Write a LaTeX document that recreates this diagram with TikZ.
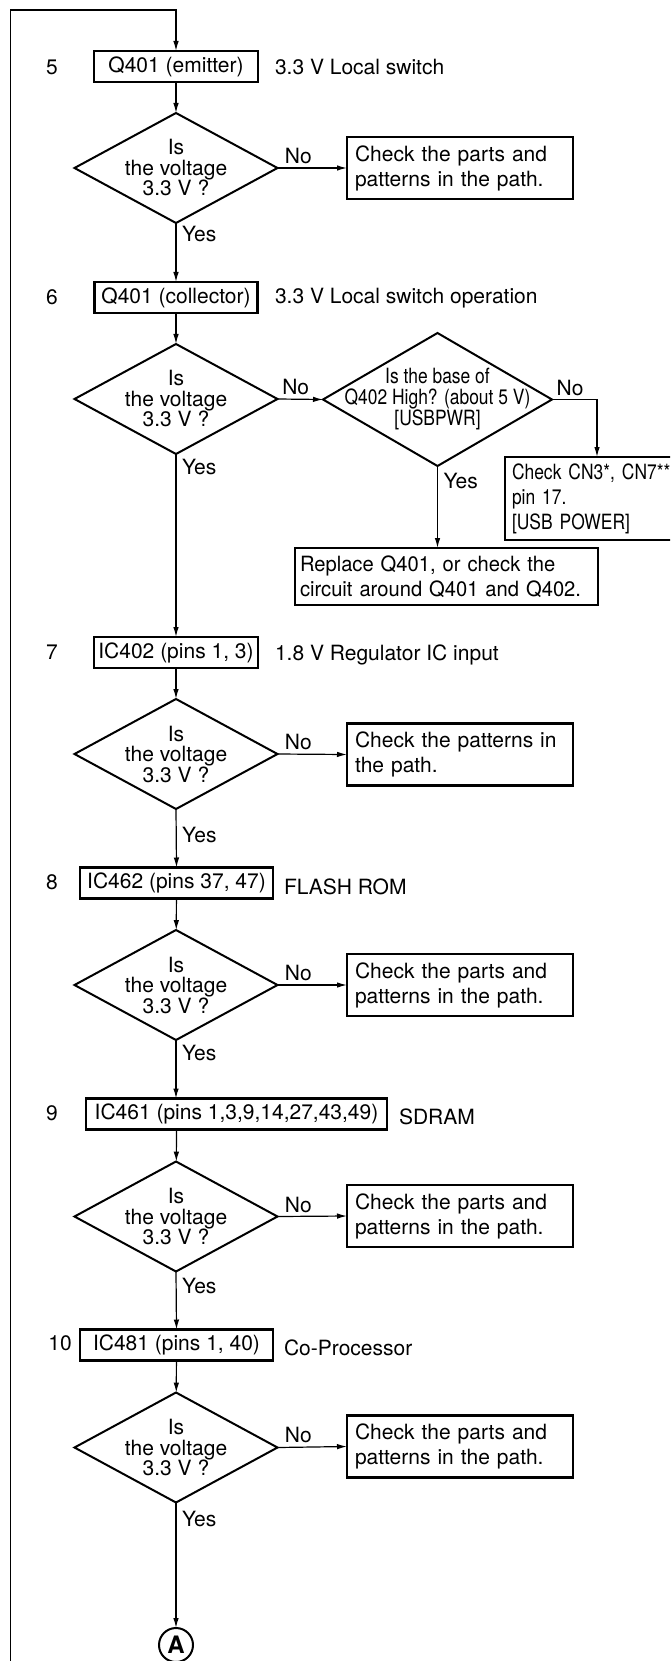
\documentclass[tikz,border=0pt]{standalone}
\usepackage{fontspec}
\setmainfont{TeX Gyre Heros}
\newfontfamily\narrowfont[FakeStretch=0.83]{TeX Gyre Heros}
\newfontfamily\slimfont[FakeStretch=0.96]{TeX Gyre Heros}
\usetikzlibrary{shapes.geometric,arrows.meta}
\begin{document}
\begin{tikzpicture}[x=1pt,y=-1pt,
  every node/.style={font=\fontsize{21}{25}\selectfont, inner sep=0pt, outer sep=0pt},
  stepbox/.style={draw, line width=2.4pt, minimum height=31pt},
  checkbox/.style={draw, line width=2.4pt, minimum width=226pt, minimum height=62pt,
     inner xsep=8pt, text width=210pt, align=left},
  dia/.style={draw, diamond, line width=2pt, minimum width=203pt, minimum height=110pt},
  dtext/.style={align=center, font=\fontsize{21}{20.5}\selectfont},
  conn/.style={line width=1.2pt},
  arr/.style={conn, -{Latex[length=10pt,width=5.5pt]}},
  txt/.style={anchor=west}
]
\useasboundingbox (0,0) rectangle (670,1661);
\clip (0,0) rectangle (670,1661);

% ---- step 5
\node[stepbox, minimum width=164pt] (b5) at (176,66.5) {Q401 (emitter)};
\node (n5) at (52,67) {5};
\node[txt] (t5) at (275,67) {3.3 V Local switch};
\node[dia, label={[dtext]center:{Is\\the voltage\\3.3 V ?}}] (d1) at (176,168) {};
\node[checkbox] (c1) at (460,168) {Check the parts and\\patterns in the path.};

% ---- step 6
\node[stepbox, minimum width=163pt] (b6) at (176,297.5) {Q401 (collector)};
\node (n6) at (52,297) {6};
\node[txt] (t6) at (275,298) {3.3 V Local switch operation};
\node[dia, label={[dtext]center:{Is\\the voltage\\3.3 V ?}}] (d2) at (176,399) {};
\node[dia, minimum width=229pt, minimum height=133pt,
      label={[dtext,font=\narrowfont\fontsize{21}{21}\selectfont]center:{Is the base of\\Q402 High? (about 5 V)\\{[USBPWR]}}}] (d3) at (437.5,399.5) {};
\node[draw, line width=2.4pt, anchor=north west, minimum width=185pt, minimum height=83pt,
      inner xsep=7pt, text width=171pt, align=left,
      font=\narrowfont\fontsize{21}{25}\selectfont] (cn3) at (505,457)
      {Check CN3*, CN7**\\pin 17.\\{[USB POWER]}};
\node[draw, line width=2.4pt, anchor=north west, minimum width=303pt, minimum height=57pt,
      inner xsep=5pt, text width=293pt, align=left,
      font=\slimfont\fontsize{21}{25}\selectfont] (rep) at (295,548)
      {Replace Q401, or check the\\circuit around Q401 and Q402.};

% ---- step 7
\node[stepbox, minimum width=164pt] (b7) at (176,652.5) {IC402 (pins 1, 3)};
\node (n7) at (52,652) {7};
\node[txt] (t7) at (275,655) {1.8 V Regulator IC input};
\node[dia, label={[dtext]center:{Is\\the voltage\\3.3 V ?}}] (d4) at (176,754) {};
\node[checkbox] (c2) at (460,754.5) {Check the patterns in\\the path.};

% ---- step 8
\node[stepbox, minimum width=193pt] (b8) at (176.5,883) {IC462 (pins 37, 47)};
\node (n8) at (52,882) {8};
\node[txt] (t8) at (284,887) {FLASH ROM};
\node[dia, label={[dtext]center:{Is\\the voltage\\3.3 V ?}}] (d5) at (176,985) {};
\node[checkbox] (c3) at (460,985) {Check the parts and\\patterns in the path.};

% ---- step 9
\node[stepbox, minimum width=301pt] (b9) at (236.5,1114) {IC461 (pins 1,3,9,14,27,43,49)};
\node (n9) at (52,1113) {9};
\node[txt] (t9) at (399,1117) {SDRAM};
\node[dia, label={[dtext]center:{Is\\the voltage\\3.3 V ?}}] (d6) at (176,1216.5) {};
\node[checkbox] (c4) at (460,1216) {Check the parts and\\patterns in the path.};

% ---- step 10
\node[stepbox, minimum width=193pt] (b10) at (176.5,1345) {IC481 (pins 1, 40)};
\node (n10) at (60,1343) {10};
\node[txt] (t10) at (284,1348) {Co-Processor};
\node[dia, label={[dtext]center:{Is\\the voltage\\3.3 V ?}}] (d7) at (176,1447.5) {};
\node[checkbox] (c5) at (460,1446.5) {Check the parts and\\patterns in the path.};

% ---- connector A
\node[draw, circle, line width=2pt, minimum size=34pt,
      font=\bfseries\fontsize{24}{24}\selectfont] (ca) at (176,1645) {A};

% ---- connectors
\coordinate (loop) at (10.7,1680);
\draw[arr] (loop) -- (10.7,10) -| (b5.north);
\draw[arr] (b5) -- (d1);
\draw[arr] (d1.east) -- (c1.west) node[pos=0.3, above=4pt] (no1) {No};
\draw[arr] (d1.south) -- (b6.north) node[pos=0.18, right=6pt] (y1) {Yes};
\draw[arr] (b6) -- (d2);
\draw[arr] (d2.east) -- (d3.west) node[pos=0.4, above=4pt] (no2) {No};
\draw[arr] (d3.east) -| ([xshift=92pt]cn3.north west) node[pos=0.2, above=4pt] (no3) {No};
\draw[arr] (d3.south) -- (d3.south |- rep.north) node[pos=0.18, right=6pt] (y2) {Yes};
\draw[arr] (d2.south) -- (b7.north) node[pos=0.07, right=6pt] (y3) {Yes};
\draw[arr] (b7) -- (d4);
\draw[arr] (d4.east) -- (c2.west) node[pos=0.3, above=4pt] (no4) {No};
\draw[arr] (d4.south) -- (b8.north) node[pos=0.45, right=6pt] (y4) {Yes};
\draw[arr] (b8) -- (d5);
\draw[arr] (d5.east) -- (c3.west) node[pos=0.3, above=4pt] (no5) {No};
\draw[arr] (d5.south) -- (d5.south |- b9.north) node[pos=0.22, right=6pt] (y5) {Yes};
\draw[arr] (b9.south -| b8.south) -- (d6);
\draw[arr] (d6.east) -- (c4.west) node[pos=0.3, above=4pt] (no6) {No};
\draw[arr] (d6.south) -- (b10.north) node[pos=0.25, right=6pt] (y6) {Yes};
\draw[arr] (b10) -- (d7);
\draw[arr] (d7.east) -- (c5.west) node[pos=0.3, above=4pt] (no7) {No};
\draw[arr] (d7.south) -- (ca.north) node[pos=0.13, right=6pt] (y7) {Yes};
\end{tikzpicture}
\end{document}
